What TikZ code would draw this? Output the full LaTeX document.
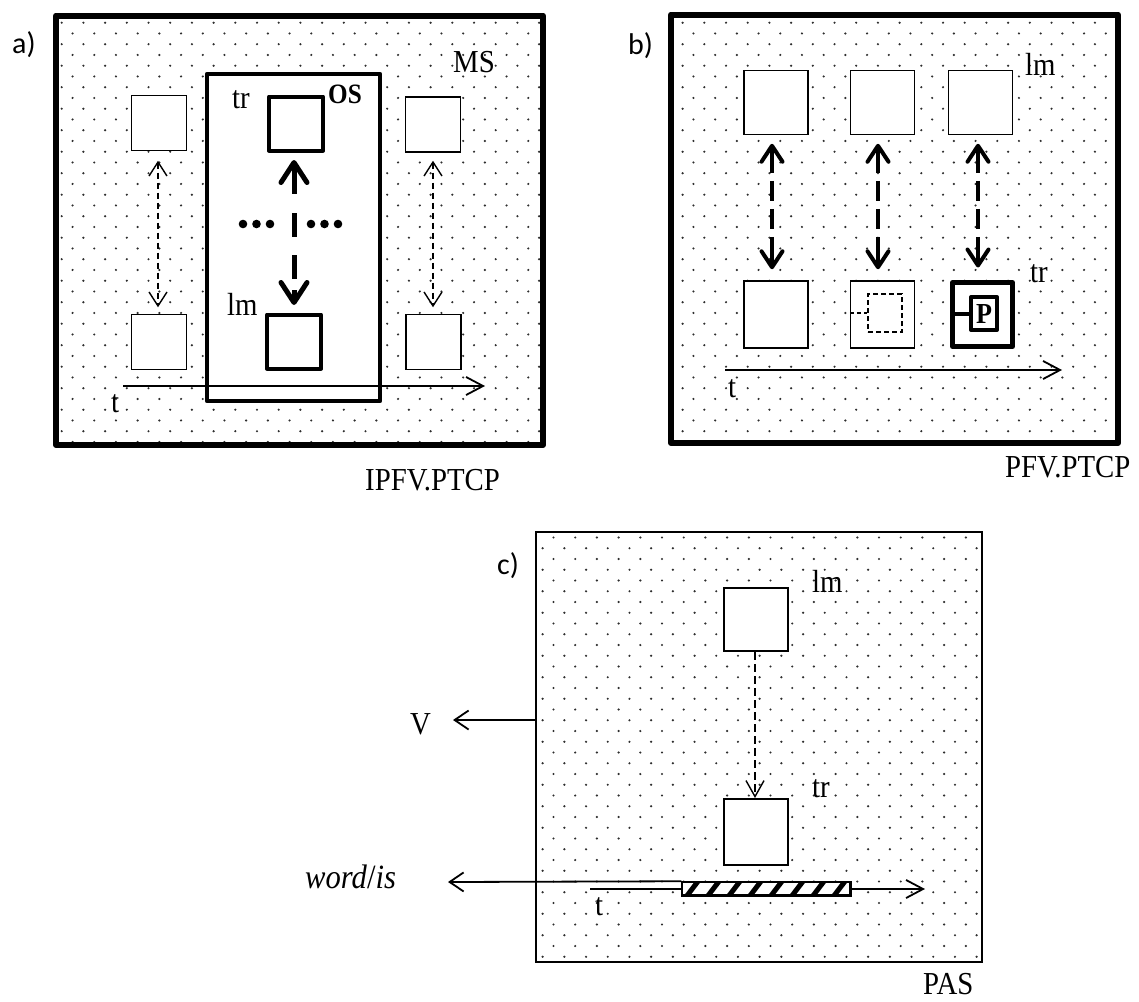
\documentclass[tikz,border=0pt]{standalone}
\usepackage{fontspec}
\setmainfont{Liberation Serif}[FakeStretch=0.9]
\newfontfamily\panelfont{Carlito}
\usetikzlibrary{arrows.meta}
\definecolor{dotcol}{gray}{0.18}
\newcommand\dotfield[4]{%
  \foreach \j in {0,...,#3}{%
    \pgfmathsetmacro\dfy{#2+\j*10.75}%
    \pgfmathsetmacro\dfx{#1+mod(\j,2)*10.85}%
    \foreach \i in {0,...,#4}{%
      \fill[dotcol] ({\dfx+\i*21.7},\dfy) circle (1.2pt);
    }%
  }%
}
\begin{document}
\begin{tikzpicture}[x=1pt,y=-1pt,
  lbl/.style={font=\fontsize{32}{34}\selectfont, inner sep=0pt, anchor=base west},
  plbl/.style={font=\panelfont\fontsize{30}{32}\selectfont, inner sep=0pt, anchor=base west},
  bigframe/.style={draw, line width=6pt, line join=round, inner sep=0pt},
  sq/.style={draw, fill=white, line width=1.5pt, inner sep=0pt},
  thicksq/.style={draw, fill=white, line width=4pt, line join=round, inner sep=0pt},
  dblthin/.style={line width=1.4pt, dash pattern=on 6pt off 4pt,
     {Straight Barb[length=14pt,width=18pt]}-{Straight Barb[length=14pt,width=18pt]}},
  osarr/.style={line width=5pt,
     dash pattern=on 29pt off 19pt on 24pt off 18pt on 24pt off 11pt on 40pt,
     {Straight Barb[length=20pt,width=26pt,round]}-{Straight Barb[length=20pt,width=26pt,round]}},
  dblthick/.style={line width=4pt,
     dash pattern=on 25pt off 8pt on 20pt off 8pt on 20pt off 8pt on 40pt,
     {Straight Barb[length=16pt,width=21pt,round]}-{Straight Barb[length=16pt,width=21pt,round]}},
  timearr/.style={line width=1.8pt, -{Straight Barb[length=17pt,width=18pt]}},
  onehead/.style={line width=1.8pt, -{Straight Barb[length=14pt,width=19pt]}},
  cdash/.style={line width=1.4pt, dash pattern=on 8pt off 4pt, -{Straight Barb[length=16pt,width=18pt]}}
]
\fill[white] (0,0) rectangle (1139,1001);
\useasboundingbox (0,0) rectangle (1139,1001);

% ---------- dotted backgrounds
\begin{scope}\clip (56,15.5) rectangle (543,445); \dotfield{40}{22.7}{39}{23} \end{scope}
\begin{scope}\clip (671,14.5) rectangle (1118,443); \dotfield{660.9}{22.7}{39}{22} \end{scope}
\begin{scope}\clip (536,532) rectangle (982,962); \dotfield{531.8}{537.5}{39}{21} \end{scope}

% ---------- panel a
\node[bigframe, minimum width=487pt, minimum height=429.5pt] (frameA) at (299.5,230.25) {};
\node[draw, fill=white, line width=4.5pt, line join=round, inner sep=0pt,
      minimum width=173pt, minimum height=327pt] (osRect) at (293.5,237.5) {};
\node[sq, minimum size=55pt] (aL1) at (159,123) {};
\node[sq, minimum size=55pt] (aL2) at (159,342) {};
\node[sq, minimum size=55pt] (aR1) at (433,124.5) {};
\node[sq, minimum size=55pt] (aR2) at (433.5,342) {};
\node[thicksq, minimum size=54pt] (trA) at (296,123.5) {};
\node[thicksq, minimum size=54pt] (lmA) at (294,341.5) {};

\draw[osarr, shorten <=7.5pt, shorten >=7.5pt] (trA.south -| lmA) -- (lmA.north);
\draw[dblthin, shorten <=9.5pt, shorten >=6.5pt] ([xshift=-1pt]aL1.south) -- ([xshift=-1pt]aL2.north);
\draw[dblthin, shorten <=8pt, shorten >=6.5pt] (aR1.south) -- (aR1.south |- aR2.north);
\foreach \xx in {243,256.5,270,311,324.5,338} \fill (\xx,224) circle (4.3pt);

\coordinate (tA0) at (123,386);
\coordinate (tA1) at (485,386);
\draw[timearr] (tA0) -- (tA1);

\node[plbl] (la) at (12,53) {a)};
\node[lbl] (msl) at (453,72) {MS};
\node[lbl] (trAl) at (232,108) {tr};
\node[lbl, font=\bfseries\fontsize{28}{30}\selectfont] (osl) at (328,103) {OS};
\node[lbl] (lmAl) at (227,315) {lm};
\node[lbl] (tAl) at (111,412) {t};
\node[lbl] (capA) at (365,490) {IPFV.PTCP};

% ---------- panel b
\node[bigframe, minimum width=447pt, minimum height=428.5pt] (frameB) at (894.5,228.75) {};
\node[sq, minimum width=64pt, minimum height=64pt] (bT1) at (776,102.5) {};
\node[sq, minimum width=64pt, minimum height=64pt] (bT2) at (882.5,102.5) {};
\node[sq, minimum width=64pt, minimum height=64pt] (bT3) at (980.5,102.5) {};
\node[sq, minimum width=64pt, minimum height=67pt] (bB1) at (776,314.5) {};
\node[sq, minimum width=64pt, minimum height=67pt] (bB2) at (882.5,314.5) {};
\node[draw, fill=white, line width=5pt, line join=round, inner sep=0pt,
      minimum width=60pt, minimum height=64pt] (bB3) at (982.5,314.5) {};
\node[draw, fill=white, line width=1.5pt, dash pattern=on 5pt off 3pt, inner sep=0pt,
      minimum width=34pt, minimum height=38pt] (bIn) at (885,313) {};
\node[draw, fill=white, line width=4pt, line join=round, inner sep=0pt,
      minimum width=26pt, minimum height=33pt,
      font=\bfseries\fontsize{29}{30}\selectfont] (bP) at (984,313.5) {P};
\draw[line width=1.5pt, dash pattern=on 4pt off 3pt] (bB2.west |- bIn.west) -- (bIn.west);
\draw[line width=4pt] (bB3.west |- bP.west) -- (bP.west);

\draw[dblthick, shorten <=8.5pt, shorten >=11pt] ([xshift=-4pt]bT1.south) -- ([xshift=-4pt]bB1.north);
\draw[dblthick, shorten <=8.5pt, shorten >=11pt] ([xshift=-4.5pt]bT2.south) -- ([xshift=-4.5pt]bB2.north);
\draw[dblthick, shorten <=8.5pt, shorten >=12.5pt] ([xshift=-2.5pt]bT3.south) -- ([xshift=-2.5pt]bT3.south |- bB3.north);

\coordinate (tB0) at (725,370);
\coordinate (tB1) at (1062,370);
\draw[timearr] (tB0) -- (tB1);

\node[plbl] (lb) at (628,54) {b)};
\node[lbl] (lmBl) at (1025,75) {lm};
\node[lbl] (trBl) at (1030,282) {tr};
\node[lbl] (tBl) at (728,397) {t};
\node[lbl] (capB) at (1005,477) {PFV.PTCP};

% ---------- panel c
\node[draw, line width=2.7pt, inner sep=0pt, minimum width=446pt, minimum height=430pt] (frameC) at (759,747) {};
\node[sq, line width=2pt, minimum width=64pt, minimum height=63pt] (lmC) at (756,619.5) {};
\node[sq, line width=2pt, minimum width=64pt, minimum height=66pt] (trC) at (756,832) {};
\draw[cdash] ([xshift=-1pt]lmC.south) -- ([xshift=-1pt]trC.north);

\coordinate (vEnd) at (453,720);
\draw[onehead] (frameC.west |- vEnd) -- (vEnd);

\coordinate (tC0) at (590,889);
\coordinate (tC1) at (925,889);
\draw[timearr] (tC0) -- (tC1);

\node[draw, fill=white, line width=1.5pt, inner sep=0pt, minimum width=168pt, minimum height=13pt] (bar) at (766,888.5) {};
\begin{scope}
  \clip (682,882) rectangle (850,895);
  \foreach \k in {0,...,7} \draw[line width=5pt] ({686+\k*21},897) -- ({699+\k*21},880);
\end{scope}
\draw[line width=1.5pt] (bar.north west) rectangle (bar.south east);
\coordinate (wEnd) at (448,882);
\draw[onehead] (bar.north west) -- (wEnd);

\node[plbl] (lc) at (497,574) {c)};
\node[lbl] (lmCl) at (812,592) {lm};
\node[lbl] (trCl) at (812,797) {tr};
\node[lbl] (vl) at (410,734) {V};
\node[lbl, font=\fontsize{34}{36}\selectfont] (wl) at (305,888) {\textit{word}/\textit{is}};
\node[lbl] (tCl) at (595,915) {t};
\node[lbl] (capC) at (923,994) {PAS};
\end{tikzpicture}
\end{document}
